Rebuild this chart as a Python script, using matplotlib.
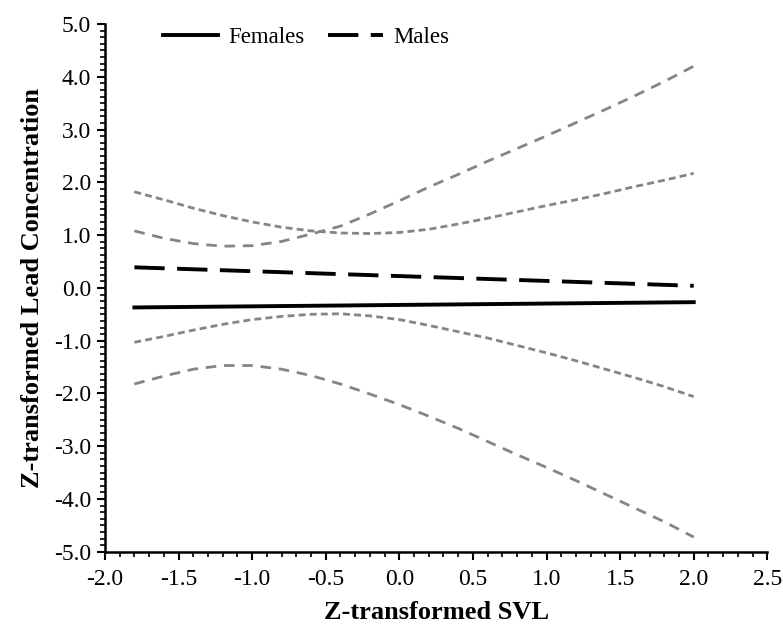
import matplotlib
matplotlib.use("Agg")
import matplotlib.pyplot as plt
from matplotlib.ticker import MultipleLocator, FormatStrFormatter

plt.rcParams['font.family'] = ['Liberation Serif', 'DejaVu Serif']
plt.rcParams['axes.unicode_minus'] = False

# fitted lines (straight, end points)
x_line = [-1.8, 2.0]
females = [-0.37, -0.27]
males = [0.39, 0.04]

# confidence bands
x_ci = [-1.8, -1.6, -1.4, -1.2, -1.0, -0.8, -0.6, -0.4, -0.2, 0.0,
        0.2, 0.4, 0.6, 0.8, 1.0, 1.2, 1.4, 1.6, 1.8, 2.0]
fem_upper = [1.08, 0.94, 0.84, 0.79, 0.80, 0.88, 1.02, 1.17, 1.40, 1.65,
             1.91, 2.15, 2.40, 2.64, 2.88, 3.13, 3.38, 3.64, 3.91, 4.20]
fem_lower = [-1.82, -1.67, -1.54, -1.47, -1.47, -1.54, -1.66, -1.82, -2.01, -2.21,
             -2.43, -2.66, -2.91, -3.16, -3.40, -3.65, -3.91, -4.17, -4.43, -4.72]
male_upper = [1.82, 1.67, 1.51, 1.37, 1.25, 1.15, 1.08, 1.04, 1.03, 1.05,
              1.11, 1.21, 1.32, 1.44, 1.56, 1.67, 1.79, 1.92, 2.04, 2.17]
male_lower = [-1.03, -0.92, -0.80, -0.69, -0.60, -0.54, -0.50, -0.49, -0.53, -0.60,
              -0.71, -0.83, -0.95, -1.09, -1.23, -1.38, -1.54, -1.70, -1.87, -2.06]

fig = plt.figure(figsize=(7.83, 6.30), dpi=100)
ax = fig.add_axes([0.134, 0.124, 0.846, 0.838])

gray = '#858585'
# female band: longer gray dashes
for yy in (fem_upper, fem_lower):
    ax.plot(x_ci, yy, color=gray, lw=2.0, dashes=(3.8, 2.8))
# male band: short gray dashes
for yy in (male_upper, male_lower):
    ax.plot(x_ci, yy, color=gray, lw=2.0, dashes=(2.5, 1.5))

ax.plot(x_line, females, color='black', lw=2.8, label='Females')
ax.plot(x_line, males, color='black', lw=2.8, dashes=(7.8, 3.2), label='Males')

ax.set_xlim(-2.0, 2.5)
ax.set_ylim(-5.0, 5.0)
ax.xaxis.set_major_locator(MultipleLocator(0.5))
ax.xaxis.set_minor_locator(MultipleLocator(0.1))
ax.yaxis.set_major_locator(MultipleLocator(1.0))
ax.yaxis.set_minor_locator(MultipleLocator(0.125))
ax.xaxis.set_major_formatter(FormatStrFormatter('%.1f'))
ax.yaxis.set_major_formatter(FormatStrFormatter('%.1f'))

for s in ('top', 'right'):
    ax.spines[s].set_visible(False)
for s in ('left', 'bottom'):
    ax.spines[s].set_linewidth(1.8)

ax.tick_params(which='major', direction='out', length=6, width=1.5, labelsize=17)
ax.tick_params(which='minor', direction='out', length=3.5, width=1.2)
ax.tick_params(axis='x', which='major', pad=6)
ax.tick_params(axis='y', which='major', pad=4)

ax.set_xlabel('Z-transformed SVL', fontsize=19, fontweight='bold', labelpad=8)
ax.set_ylabel('Z-transformed Lead Concentration', fontsize=19, fontweight='bold', labelpad=7)

ax.legend(loc='center left', bbox_to_anchor=(0.088, 0.975), ncol=2, frameon=False,
          fontsize=16.5, handlelength=2.4, handletextpad=0.45, columnspacing=1.0,
          borderpad=0, borderaxespad=0)

fig.savefig('out.png', dpi=100)
